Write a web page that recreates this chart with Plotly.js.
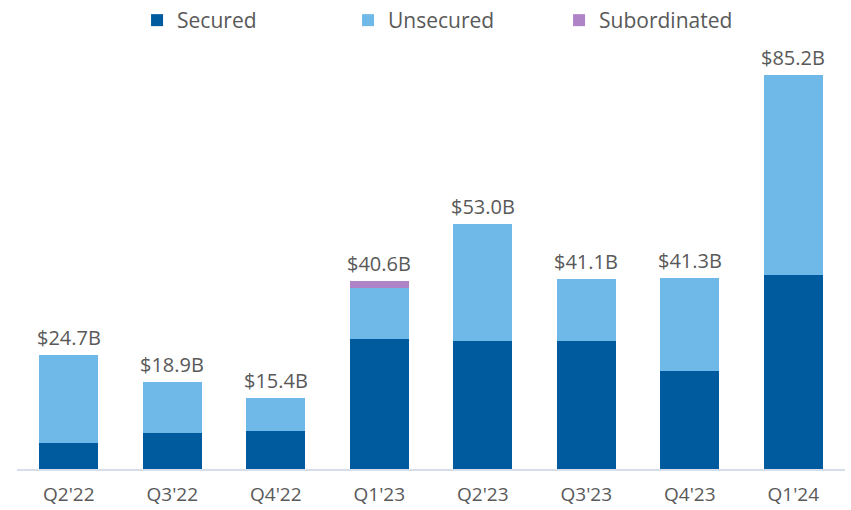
<!DOCTYPE html>
<html>
<head>
<meta charset="utf-8">
<script src="https://cdn.plot.ly/plotly-3.0.1.min.js"></script>
<style>html,body{margin:0;padding:0;background:#fff;}#chart{width:851px;height:510px;}</style>
</head>
<body>
<div id="chart"></div>
<script>
var quarters = ["Q2'22","Q3'22","Q4'22","Q1'23","Q2'23","Q3'23","Q4'23","Q1'24"];
var secured = [5.7, 7.7, 8.3, 28.1, 27.7, 27.8, 21.1, 41.9];
var unsecured = [19.0, 11.2, 7.1, 11.1, 25.3, 13.3, 20.2, 43.3];
var subordinated = [0, 0, 0, 1.4, 0, 0, 0, 0];
var totals = [24.7, 18.9, 15.4, 40.6, 53.0, 41.1, 41.3, 85.2];
var totalLabels = ["$24.7B","$18.9B","$15.4B","$40.6B","$53.0B","$41.1B","$41.3B","$85.2B"];

var font = "'Open Sans', 'Noto Sans', sans-serif";
var textColor = "#595959";

var traces = [
  {type:"bar", name:"Secured", x:quarters, y:secured, marker:{color:"#005A9E"}, hoverinfo:"x+y"},
  {type:"bar", name:"Unsecured", x:quarters, y:unsecured, marker:{color:"#6FB9E8"}, hoverinfo:"x+y"},
  {type:"bar", name:"Subordinated", x:quarters, y:subordinated, marker:{color:"#AE84C6"}, hoverinfo:"x+y"}
];

var annotations = quarters.map(function(q, i){
  return {x:q, y:totals[i], text:totalLabels[i], showarrow:false, yanchor:"bottom", yshift:2,
          font:{family:font, size:20, color:textColor}};
});

var layout = {
  width:851, height:510,
  barmode:"stack",
  bargap:0.43,
  margin:{l:17, r:6, t:53, b:41},
  paper_bgcolor:"#fff", plot_bgcolor:"#fff",
  font:{family:font, color:textColor},
  showlegend:true,
  legend:{orientation:"h", x:0.145, xanchor:"left", y:1.0, yanchor:"top", yref:"container",
          font:{family:font, size:21, color:textColor}, entrywidth:166, traceorder:"normal",
          itemclick:false},
  xaxis:{type:"category", showline:true, linecolor:"#D6DEEC", linewidth:1.5, ticks:"",
         ticklabelstandoff:8,
         tickfont:{family:font, size:19, color:textColor}, showgrid:false, zeroline:false},
  yaxis:{range:[0,90], visible:false, showgrid:false, zeroline:false},
  annotations:annotations
};

Plotly.newPlot("chart", traces, layout, {displayModeBar:false, staticPlot:true});
</script>
</body>
</html>
